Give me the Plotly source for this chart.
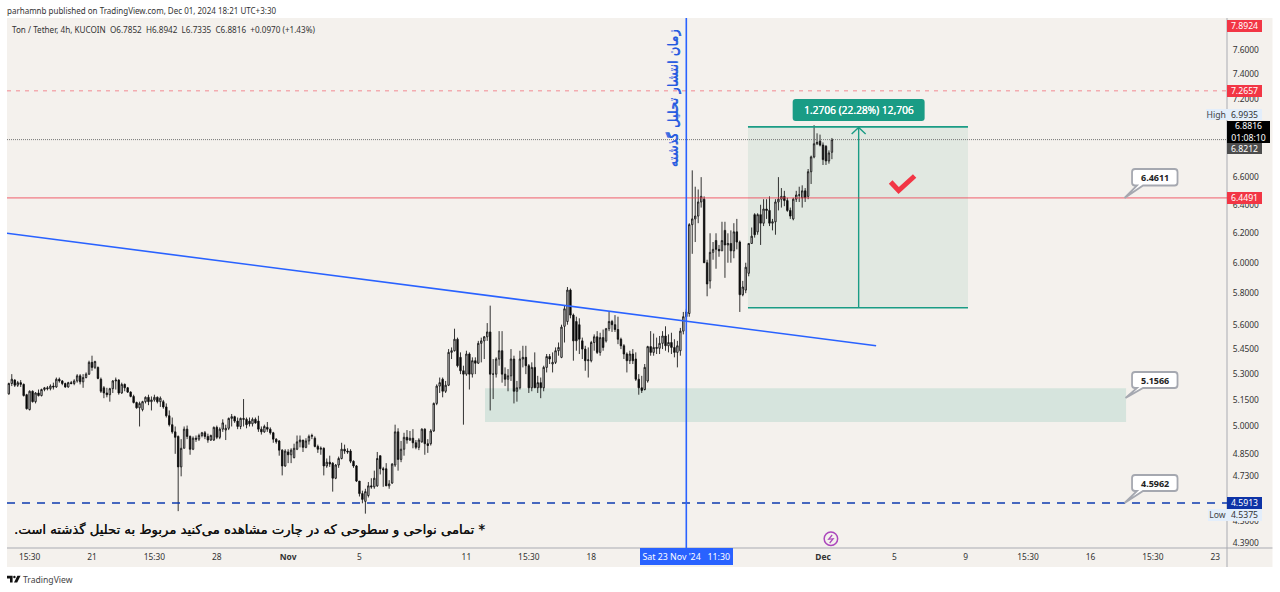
import pandas as pd
import plotly.graph_objects as go

# ---------- data ----------
first_candle = "2024-10-16 11:30"
opens = [5.185,5.245,5.265,5.235,5.25,5.24,5.18,5.095,5.20,5.14,
 5.19,5.175,5.21,5.22,5.215,5.23,5.225,5.27,5.26,5.245,
 5.225,5.25,5.245,5.26,5.29,5.255,5.28,5.30,5.37,5.34,
 5.34,5.27,5.22,5.19,5.18,5.215,5.26,5.265,5.19,5.24,
 5.22,5.195,5.17,5.135,5.105,5.095,5.14,5.165,5.14,5.15,
 5.165,5.14,5.14,5.11,5.06,5.01,4.97,4.945,4.78,4.88,
 4.985,4.945,4.875,4.935,4.93,4.95,4.965,4.945,4.925,4.925,
 4.995,4.94,4.985,4.98,4.99,5.045,5.055,5.03,5.00,5.045,
 5.04,5.03,5.015,5.04,5.03,4.985,4.97,4.995,4.985,4.965,
 4.93,4.92,4.87,4.785,4.86,4.845,4.83,4.875,4.915,4.925,
 4.885,4.92,4.945,4.935,4.89,4.875,4.88,4.785,4.805,4.80,
 4.72,4.79,4.825,4.875,4.865,4.865,4.81,4.785,4.705,4.64,
 4.60,4.63,4.68,4.675,4.68,4.84,4.77,4.77,4.68,4.695,
 4.79,4.97,4.82,4.875,4.94,4.925,4.935,4.91,4.885,4.915,
 4.985,4.905,4.905,4.975,5.13,5.23,5.27,5.20,5.235,5.43,
 5.44,5.51,5.40,5.32,5.30,5.42,5.30,5.38,5.365,5.485,
 5.50,5.525,5.555,5.30,5.30,5.39,5.44,5.30,5.27,5.29,
 5.39,5.20,5.22,5.39,5.40,5.35,5.22,5.34,5.22,5.25,
 5.22,5.34,5.405,5.36,5.37,5.44,5.40,5.59,5.62,5.82,
 5.66,5.62,5.60,5.50,5.45,5.38,5.38,5.49,5.525,5.43,
 5.52,5.50,5.575,5.62,5.60,5.57,5.51,5.47,5.42,5.38,
 5.42,5.39,5.27,5.22,5.21,5.26,5.465,5.43,5.46,5.455,
 5.485,5.53,5.47,5.49,5.46,5.43,5.44,5.56,5.65,5.67,
 6.26,6.30,6.32,6.42,6.44,6.00,5.88,6.07,6.15,6.09,
 6.08,6.22,6.12,6.13,6.08,6.21,6.14,5.79,5.82,5.93,
 6.13,6.33,6.21,6.33,6.27,6.37,6.36,6.27,6.28,6.42,
 6.44,6.46,6.43,6.36,6.30,6.44,6.47,6.45,6.50,6.46,
 6.64,6.75,6.85,6.87,6.84,6.83,6.72,6.7852]
highs = [5.25,5.30,5.27,5.26,5.265,5.245,5.185,5.205,5.205,5.195,
 5.21,5.215,5.225,5.23,5.24,5.25,5.28,5.28,5.265,5.25,
 5.255,5.26,5.27,5.30,5.30,5.30,5.31,5.38,5.41,5.38,
 5.345,5.28,5.23,5.22,5.22,5.265,5.28,5.27,5.25,5.245,
 5.225,5.20,5.18,5.14,5.14,5.145,5.17,5.18,5.17,5.18,
 5.17,5.17,5.15,5.13,5.09,5.05,5.00,4.95,4.93,5.00,
 5.005,4.95,4.945,4.95,4.96,4.97,4.975,4.96,4.955,5.00,
 5.005,4.995,5.04,5.01,5.05,5.07,5.06,5.05,5.05,5.155,
 5.05,5.05,5.05,5.05,5.06,5.00,5.01,5.025,4.995,4.97,
 4.935,4.925,4.875,4.875,4.875,4.88,4.905,4.95,4.95,4.925,
 4.935,4.955,4.96,4.945,4.90,4.89,4.885,4.825,4.84,4.805,
 4.795,4.835,4.91,4.90,4.88,4.875,4.815,4.79,4.705,4.655,
 4.665,4.70,4.72,4.76,4.86,4.84,4.78,4.80,4.71,4.80,
 5.01,4.99,4.92,4.965,4.98,4.975,4.985,4.925,4.935,4.99,
 4.99,4.93,4.985,5.135,5.24,5.28,5.28,5.26,5.45,5.46,
 5.575,5.52,5.43,5.35,5.44,5.43,5.40,5.40,5.50,5.52,
 5.53,5.61,5.72,5.39,5.40,5.56,5.56,5.34,5.33,5.45,
 5.41,5.26,5.44,5.47,5.47,5.36,5.37,5.43,5.29,5.28,
 5.35,5.42,5.42,5.43,5.46,5.49,5.60,5.72,5.84,5.83,
 5.67,5.65,5.64,5.52,5.47,5.46,5.50,5.54,5.56,5.55,
 5.57,5.58,5.68,5.63,5.66,5.65,5.52,5.48,5.43,5.44,
 5.45,5.43,5.30,5.29,5.36,5.47,5.56,5.545,5.52,5.53,
 5.56,5.59,5.54,5.55,5.51,5.50,5.58,5.68,5.70,6.27,
 6.65,6.53,6.51,6.60,6.46,6.02,6.20,6.14,6.20,6.12,
 6.28,6.28,6.20,6.22,6.27,6.30,6.15,5.88,6.00,6.13,
 6.24,6.34,6.34,6.40,6.44,6.44,6.46,6.30,6.44,6.60,
 6.52,6.50,6.45,6.38,6.45,6.50,6.53,6.54,6.52,6.66,
 6.76,6.9935,6.93,6.92,6.86,6.84,6.80,6.8942]
lows = [5.18,5.23,5.225,5.225,5.225,5.17,5.095,5.09,5.135,5.13,
 5.17,5.17,5.20,5.205,5.205,5.21,5.22,5.25,5.235,5.22,
 5.22,5.24,5.235,5.25,5.24,5.22,5.275,5.295,5.32,5.33,
 5.27,5.19,5.16,5.165,5.14,5.19,5.21,5.18,5.185,5.20,
 5.19,5.165,5.13,5.10,5.00,5.085,5.13,5.12,5.09,5.14,
 5.13,5.11,5.10,5.05,5.00,4.96,4.85,4.55,4.73,4.88,
 4.93,4.845,4.87,4.915,4.92,4.94,4.93,4.91,4.92,4.92,
 4.93,4.93,4.97,4.925,4.98,5.00,5.02,4.985,4.985,5.00,
 4.99,5.00,5.00,5.015,4.97,4.955,4.965,4.97,4.955,4.91,
 4.905,4.84,4.735,4.78,4.80,4.80,4.825,4.87,4.885,4.86,
 4.88,4.90,4.93,4.885,4.855,4.845,4.735,4.775,4.78,4.65,
 4.715,4.775,4.82,4.85,4.85,4.80,4.775,4.70,4.625,4.59,
 4.5375,4.62,4.665,4.665,4.675,4.74,4.675,4.68,4.665,4.69,
 4.78,4.76,4.805,4.84,4.905,4.92,4.88,4.875,4.87,4.91,
 4.845,4.855,4.895,4.97,5.12,5.19,5.165,5.19,5.23,5.39,
 5.435,5.34,5.30,5.01,5.29,5.21,5.28,5.30,5.36,5.37,
 5.39,5.50,5.09,5.155,5.28,5.35,5.25,5.23,5.20,5.26,
 5.13,5.14,5.21,5.34,5.30,5.19,5.20,5.22,5.19,5.16,
 5.20,5.31,5.36,5.31,5.36,5.41,5.395,5.49,5.60,5.64,
 5.38,5.44,5.42,5.39,5.32,5.28,5.37,5.44,5.42,5.41,
 5.44,5.49,5.56,5.555,5.555,5.48,5.45,5.39,5.31,5.36,
 5.36,5.26,5.18,5.19,5.205,5.25,5.41,5.41,5.42,5.42,
 5.45,5.44,5.43,5.42,5.40,5.34,5.41,5.54,5.62,5.65,
 6.06,6.14,6.27,6.38,6.00,5.78,5.83,6.02,5.96,6.04,
 6.08,5.90,6.00,6.00,6.03,6.09,5.68,5.78,5.80,5.91,
 6.13,6.17,6.19,6.12,6.25,6.30,6.25,6.22,6.19,6.36,
 6.38,6.39,6.35,6.30,6.29,6.42,6.42,6.38,6.42,6.44,
 6.55,6.74,6.84,6.83,6.69,6.69,6.70,6.7335]
closes = [5.245,5.27,5.235,5.25,5.24,5.175,5.10,5.20,5.14,5.19,
 5.175,5.21,5.22,5.215,5.23,5.225,5.27,5.26,5.245,5.225,
 5.25,5.245,5.26,5.29,5.255,5.28,5.30,5.37,5.34,5.375,
 5.275,5.20,5.19,5.18,5.215,5.26,5.265,5.19,5.24,5.22,
 5.195,5.17,5.135,5.105,5.13,5.14,5.165,5.14,5.15,5.165,
 5.14,5.16,5.11,5.06,5.01,4.97,4.94,4.78,4.88,4.985,
 4.945,4.875,4.935,4.93,4.95,4.965,4.945,4.925,4.95,4.995,
 4.94,4.985,5.02,4.99,5.045,5.055,5.03,5.00,5.045,5.04,
 5.01,5.015,5.04,5.02,4.985,4.97,5.00,4.985,4.965,4.93,
 4.915,4.87,4.785,4.865,4.845,4.87,4.88,4.915,4.925,4.885,
 4.92,4.945,4.95,4.89,4.875,4.88,4.785,4.805,4.795,4.72,
 4.79,4.825,4.875,4.865,4.86,4.81,4.785,4.705,4.64,4.61,
 4.65,4.68,4.675,4.72,4.825,4.77,4.765,4.68,4.69,4.795,
 4.97,4.82,4.875,4.94,4.925,4.935,4.91,4.885,4.925,4.985,
 4.905,4.895,4.975,5.13,5.23,5.25,5.20,5.235,5.43,5.44,
 5.51,5.35,5.32,5.30,5.42,5.30,5.38,5.365,5.485,5.50,
 5.525,5.555,5.30,5.30,5.39,5.44,5.30,5.27,5.29,5.39,
 5.20,5.22,5.39,5.40,5.35,5.22,5.34,5.22,5.25,5.22,
 5.34,5.405,5.39,5.37,5.44,5.46,5.585,5.70,5.82,5.66,
 5.50,5.50,5.51,5.45,5.38,5.385,5.49,5.525,5.43,5.52,
 5.46,5.575,5.62,5.60,5.57,5.51,5.47,5.42,5.38,5.42,
 5.38,5.27,5.22,5.205,5.34,5.465,5.43,5.46,5.455,5.485,
 5.53,5.47,5.49,5.46,5.43,5.47,5.56,5.65,5.68,6.26,
 6.30,6.32,6.42,6.46,6.00,5.86,6.07,6.09,6.09,6.08,
 6.15,6.12,6.13,6.08,6.21,6.14,5.79,5.84,5.97,6.13,
 6.18,6.19,6.33,6.27,6.37,6.36,6.27,6.28,6.42,6.44,
 6.46,6.43,6.36,6.32,6.44,6.47,6.47,6.50,6.45,6.64,
 6.75,6.85,6.86,6.84,6.73,6.72,6.78,6.8816]

price_ticks = [7.6,7.4,7.2,6.6,6.4,6.2,6.0,5.8,5.6,5.45,5.3,5.15,5.0,4.85,4.73,4.6,4.5,4.39]
time_ticks = ["2024-10-17 15:30","2024-10-21 03:30","2024-10-24 15:30","2024-10-28 03:30",
 "2024-11-01 03:30","2024-11-05 03:30","2024-11-11 03:30","2024-11-14 15:30","2024-11-18 03:30",
 "2024-12-01 03:30","2024-12-05 03:30","2024-12-09 03:30","2024-12-12 15:30","2024-12-16 03:30",
 "2024-12-19 15:30","2024-12-23 03:30"]
time_labels = ["15:30","21","15:30","28","<b>Nov</b>","5","11","15:30","18","<b>Dec</b>","5","9","15:30","16","15:30","23"]

trend_times = ["2024-10-16 09:04","2024-12-04 03:00"]
trend_prices = [6.20,5.47]
publish_time = "2024-11-23 11:30"
zone_times = ["2024-11-12 04:30","2024-12-18 03:30"]
zone_prices = [5.025,5.218]
measure_times = ["2024-11-26 22:30","2024-12-09 06:40"]
measure_prices = [5.707,6.98]
measure_mid = "2024-12-03 03:30"
level_resistance = 7.2657
level_red = 6.4491
level_low = 4.5913
last_price = 6.8816

TITLE = "parhamnb published on TradingView.com, Dec 01, 2024 18:21 UTC+3:30"
LEGEND = "Ton / Tether, 4h, KUCOIN  O6.7852  H6.8942  L6.7335  C6.8816  +0.0970 (+1.43%)"
NOTE = "\u200f* تمامی نواحی و سطوحی که در چارت مشاهده می\u200cکنید مربوط به تحلیل گذشته است.\u200f"
VLABEL = "زمان انتشار تحلیل گذشته"

# ---------- layout geometry ----------
W, H = 1280, 592
L, R, T, B = 7, 1227.5, 18, 548
def px(x): return (x - L) / (R - L)
def py(y): return (B - y) / (B - T)
BG = "#f4f1ed"
UI = "Noto Sans, sans-serif"
AR = "DejaVu Sans, sans-serif"

times = pd.date_range(first_candle, periods=len(closes), freq="4h")

fig = go.Figure(go.Candlestick(
    x=times, open=opens, high=highs, low=lows, close=closes,
    increasing=dict(line=dict(color="#111111", width=0.85), fillcolor="#d9d9d9"),
    decreasing=dict(line=dict(color="#111111", width=0.85), fillcolor="#000000"),
    showlegend=False, hoverinfo="skip"))

def rrect(x0, y0, x1, y1, r, tail=None):
    """Rounded box in paper units; optional callout tail from the lower left edge."""
    X, Y = px, py
    p = f"M{X(x0+r)},{Y(y0)} L{X(x1-r)},{Y(y0)} Q{X(x1)},{Y(y0)} {X(x1)},{Y(y0+r)} "
    p += f"L{X(x1)},{Y(y1-r)} Q{X(x1)},{Y(y1)} {X(x1-r)},{Y(y1)} "
    if tail:
        p += f"L{X(x0+11)},{Y(y1)} L{X(tail[0])},{Y(tail[1])} L{X(x0+5)},{Y(y1)} "
    p += f"L{X(x0+r)},{Y(y1)} Q{X(x0)},{Y(y1)} {X(x0)},{Y(y1-r)} "
    p += f"L{X(x0)},{Y(y0+r)} Q{X(x0)},{Y(y0)} {X(x0+r)},{Y(y0)} Z"
    return p

shapes = []
# chart panel, including the price scale strip
shapes.append(dict(type="rect", xref="paper", yref="paper", x0=px(7), x1=px(1273), y0=py(18), y1=py(567),
                   fillcolor=BG, line_width=0, layer="below"))
# axis rules
shapes.append(dict(type="line", xref="paper", yref="paper", x0=px(R), x1=px(R), y0=py(18), y1=py(567),
                   line=dict(color="#a9abb2", width=1), layer="below"))
shapes.append(dict(type="line", xref="paper", yref="paper", x0=px(7), x1=px(1273), y0=py(B), y1=py(B),
                   line=dict(color="#a9abb2", width=1), layer="below"))
# green zone and measure box
shapes.append(dict(type="rect", x0=zone_times[0], x1=zone_times[1], y0=zone_prices[0], y1=zone_prices[1],
                   fillcolor="#d6e4dd", line_width=0, layer="below"))
shapes.append(dict(type="rect", x0=measure_times[0], x1=measure_times[1], y0=measure_prices[0], y1=measure_prices[1],
                   fillcolor="#e1e8e1", line_width=0, layer="below"))
TEAL = "#1a9c85"
for price in measure_prices:
    shapes.append(dict(type="line", x0=measure_times[0], x1=measure_times[1], y0=price, y1=price,
                       line=dict(color=TEAL, width=1.6)))
shapes.append(dict(type="line", x0=measure_mid, x1=measure_mid, y0=measure_prices[0], y1=measure_prices[1],
                   line=dict(color=TEAL, width=1.4)))
shapes.append(dict(type="path", xref="paper", yref="paper",
                   path=f"M{px(852)},{py(134)} L{px(859)},{py(127.5)} L{px(866)},{py(134)}",
                   line=dict(color=TEAL, width=1.4)))
# horizontal levels
shapes.append(dict(type="line", xref="paper", x0=0, x1=1, y0=level_resistance, y1=level_resistance,
                   line=dict(color="#f28a93", width=1, dash="4px,5px")))
shapes.append(dict(type="line", xref="paper", x0=0, x1=1, y0=level_red, y1=level_red,
                   line=dict(color="#f0394a", width=0.8)))
shapes.append(dict(type="line", xref="paper", x0=0, x1=1, y0=level_low, y1=level_low,
                   line=dict(color="#0d3bb0", width=1.5, dash="8px,7px")))
shapes.append(dict(type="line", xref="paper", x0=0, x1=1, y0=last_price, y1=last_price,
                   line=dict(color="#777777", width=1, dash="1px,1px")))
# trend line and vertical publication marker
shapes.append(dict(type="line", x0=trend_times[0], x1=trend_times[1], y0=trend_prices[0], y1=trend_prices[1],
                   line=dict(color="#2962ff", width=1.6)))
shapes.append(dict(type="line", yref="paper", x0=publish_time, x1=publish_time, y0=0, y1=1,
                   line=dict(color="#2962ff", width=1.6)))
# teal measure label and the three price callouts
shapes.append(dict(type="path", xref="paper", yref="paper", path=rrect(793, 99, 925, 121, 3),
                   fillcolor=TEAL, line_width=0))
for y0, y1, tip in [(169, 185.5, (1125, 198)), (372, 388, (1126, 398)), (475, 491, (1125, 503))]:
    shapes.append(dict(type="path", xref="paper", yref="paper", path=rrect(1132.5, y0, 1178, y1, 3, tip),
                       fillcolor="#ffffff", line=dict(color="#a5a8b0", width=1.8)))
# red check mark
shapes.append(dict(type="path", xref="paper", yref="paper",
                   path=f"M{px(891)},{py(182)} L{px(899)},{py(190.5)} L{px(915)},{py(176)}",
                   line=dict(color="#f23645", width=5)))
# event badge with its lightning bolt
shapes.append(dict(type="circle", xref="paper", yref="paper", x0=px(824.5), x1=px(838), y0=py(532), y1=py(545.5),
                   fillcolor=BG, line=dict(color="#ab47bc", width=1.5)))
shapes.append(dict(type="path", xref="paper", yref="paper",
                   path=f"M{px(832.5)},{py(535)} L{px(829)},{py(539.3)} L{px(833.5)},{py(538.7)} L{px(830)},{py(543)}",
                   line=dict(color="#ab47bc", width=1.2)))
# footer logo
logo_t = f"M{px(7)},{py(575.8)} L{px(12.6)},{py(575.8)} L{px(12.6)},{py(582.6)} L{px(10)},{py(582.6)} L{px(10)},{py(578.4)} L{px(7)},{py(578.4)} Z"
logo_v = f"M{px(17.4)},{py(575.8)} L{px(20.6)},{py(575.8)} L{px(17.2)},{py(582.6)} L{px(14)},{py(582.6)} Z"
shapes.append(dict(type="path", xref="paper", yref="paper", path=logo_t, fillcolor="#111111", line_width=0))
shapes.append(dict(type="path", xref="paper", yref="paper", path=logo_v, fillcolor="#111111", line_width=0))
shapes.append(dict(type="circle", xref="paper", yref="paper", x0=px(13.2), x1=px(15.6), y0=py(575.8), y1=py(578.2),
                   fillcolor="#111111", line_width=0))

anns = []
def text(x, y, s, size=8.5, color="#2a2e39", font=UI, anchor="left", shadow=None):
    f = dict(family=font, size=size, color=color)
    if shadow:
        f["shadow"] = shadow
    anns.append(dict(xref="paper", yref="paper", x=px(x), y=py(y), text=s, showarrow=False,
                     xanchor=anchor, yanchor="middle", font=f))
def tag(x0, x1, y0, y1, s, bg, color="#ffffff", size=8.7):
    anns.append(dict(xref="paper", yref="paper", x=px(x0), y=py((y0+y1)/2), text=s, showarrow=False,
                     xanchor="left", yanchor="middle", width=x1-x0, height=y1-y0, borderpad=0, borderwidth=0,
                     bgcolor=bg, align="center", valign="middle", font=dict(family=UI, size=size, color=color)))

text(5, 10, TITLE, size=8.0, color="#333333")
text(10, 29, LEGEND, size=8.15, color="#333333")
text(21.5, 579.5, "TradingView", size=8.6, color="#444444")
text(249.5, 530, NOTE, size=13.2, color="#111111", font=AR, anchor="center", shadow="0.35px 0 0 #111111")
anns.append(dict(xref="paper", yref="paper", x=px(673), y=py(98.5), text=VLABEL, showarrow=False, textangle=-90,
                 xanchor="center", yanchor="middle",
                 font=dict(family=AR, size=13.1, color="#2459e0", shadow="0 0.4px 0 #2459e0")))
text(859, 110, "1.2706 (22.28%) 12,706", size=10.2, color="#ffffff", anchor="center", shadow="0.2px 0 0 #ffffff")
for y, s in [(177, "6.4611"), (380, "5.1566"), (483, "4.5962")]:
    text(1155.2, y, f"<b>{s}</b>", size=9, color="#222222", anchor="center")
tag(1227, 1262, 20, 32, "7.8924", "#f23645")
tag(1227, 1262, 85, 97, "7.2657", "#f23645")
tag(1206, 1226.5, 109, 120, "High", "#e3eefb", "#444444")
tag(1227, 1262, 109, 120, "6.9935", "#e3eefb", "#333333")
tag(1227, 1270, 121, 143, "6.8816<br>01:08:10", "#000000")
tag(1227, 1262, 143, 154, "6.8212", "#4d4d4d")
tag(1227, 1262, 192.5, 204, "6.4491", "#f23645")
tag(1227, 1262, 497, 509, "4.5913", "#0d33a6")
tag(1208, 1227, 509, 521, "Low", "#e3eefb", "#444444")
tag(1227, 1262, 509, 521, "4.5375", "#e3eefb", "#333333")
tag(640.5, 733, 548, 565, "Sat 23 Nov '24   11:30", "#2962ff", size=8.8)

fig.update_layout(
    width=W, height=H, autosize=False, margin=dict(l=L, r=W-R, t=T, b=H-B),
    paper_bgcolor="#ffffff", plot_bgcolor=BG, showlegend=False, dragmode=False,
    shapes=shapes, annotations=anns,
    xaxis=dict(type="date", range=["2024-10-16 09:04", "2024-12-23 19:20"], rangeslider=dict(visible=False),
               tickmode="array", tickvals=time_ticks, ticktext=time_labels, showgrid=False, zeroline=False,
               ticks="outside", ticklen=1, tickcolor="rgba(0,0,0,0)", showline=False, automargin=False,
               tickfont=dict(family=UI, size=8.4, color="#333333")),
    yaxis=dict(type="log", range=[0.6402, 0.8965], side="right", autorange=False, tickmode="array",
               tickvals=price_ticks, ticktext=[f"{v:.4f}" for v in price_ticks], showgrid=False, zeroline=False,
               ticks="outside", ticklen=3, tickcolor="rgba(0,0,0,0)", showline=False, automargin=False,
               tickfont=dict(family=UI, size=8.4, color="#333333")),
)
fig.write_html("out.html", config=dict(displayModeBar=False),
               post_script="document.body.style.margin='0';document.documentElement.style.overflow='hidden';")
